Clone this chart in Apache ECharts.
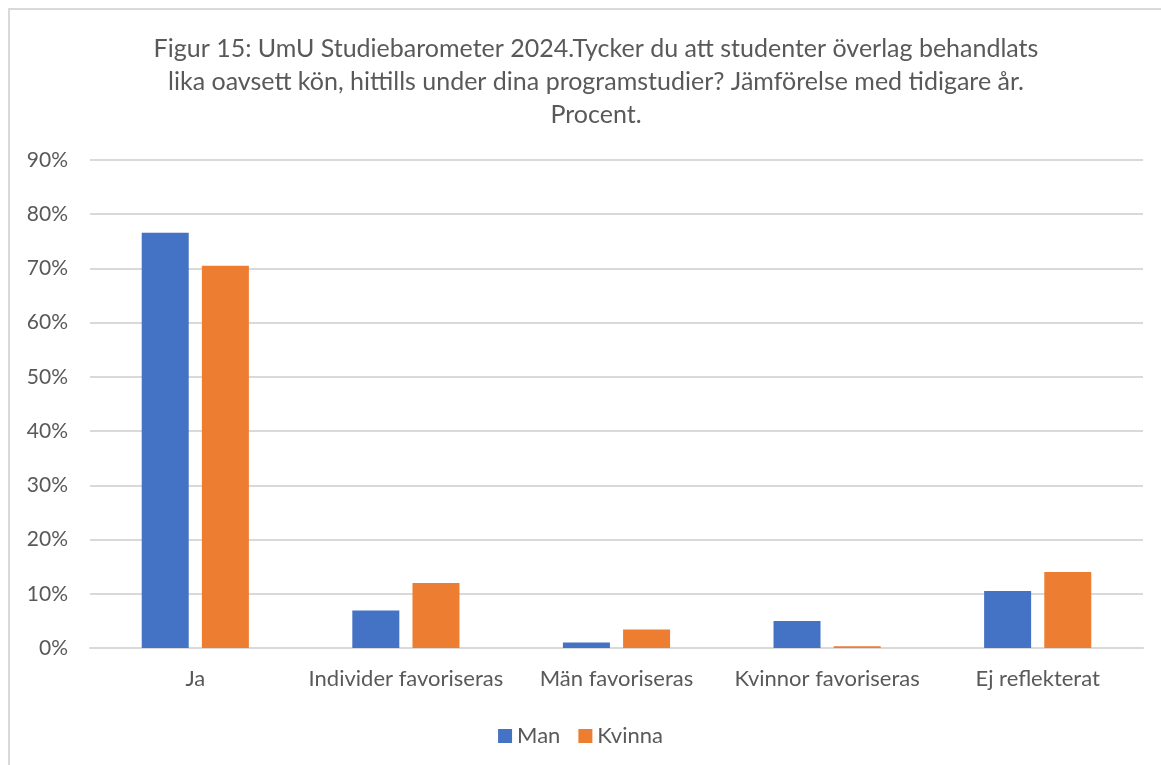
<!DOCTYPE html>
<html lang="sv">
<head>
  <meta charset="UTF-8">
  <title>Figur 15</title>
  <script src="https://cdn.jsdelivr.net/npm/echarts@6/dist/echarts.min.js"></script>
  <style>
    html, body { margin: 0; padding: 0; background: #fff; }
    #frame {
      position: absolute; left: 8px; top: 8px;
      width: 1200px; height: 800px;
      border-left: 2px solid #D9D9D9; border-top: 2px solid #D9D9D9;
    }
    #main { position: absolute; left: 0; top: 0; width: 1161px; height: 765px; }
  </style>
</head>
<body>
<div id="frame"></div>
<div id="main"></div>
<script>
  var categories = ['Ja', 'Individer favoriseras', 'Män favoriseras', 'Kvinnor favoriseras', 'Ej reflekterat'];
  var man = [76.6, 6.9, 1.0, 5.0, 10.5];
  var kvinna = [70.5, 12.0, 3.4, 0.3, 14.0];
  var yTicks = { min: 0, max: 90, step: 10 };

  var grey = '#595959';
  var font = 'Lato, "Open Sans", sans-serif';

  echarts.init(document.querySelector('#main')).setOption({
    animation: false,
    title: {
      text: 'Figur 15: UmU Studiebarometer 2024.Tycker du att studenter överlag behandlats\nlika oavsett kön, hittills under dina programstudier? Jämförelse med tidigare år.\nProcent.',
      left: 591,
      top: 27,
      textAlign: 'center',
      textStyle: {
        color: grey,
        fontFamily: font,
        fontWeight: 'normal',
        fontSize: 25,
        lineHeight: 33
      }
    },
    legend: {
      data: ['Man', 'Kvinna'],
      left: 'center',
      top: 720,
      itemWidth: 14,
      itemHeight: 14,
      itemGap: 18,
      icon: 'rect',
      textStyle: { color: grey, fontFamily: font, fontSize: 22 }
    },
    grid: { left: 90, right: 18, top: 160, bottom: 117 },
    xAxis: {
      type: 'category',
      data: categories,
      axisLine: { lineStyle: { color: '#D9D9D9', width: 2 } },
      axisTick: { show: false },
      axisLabel: { color: grey, fontFamily: font, fontSize: 22, margin: 20, interval: 0 }
    },
    yAxis: {
      type: 'value',
      min: yTicks.min,
      max: yTicks.max,
      interval: yTicks.step,
      axisLine: { show: false },
      axisTick: { show: false },
      axisLabel: { color: grey, fontFamily: font, fontSize: 21, margin: 22, formatter: '{value}%' },
      splitLine: { lineStyle: { color: '#D9D9D9', width: 2 } }
    },
    series: [
      {
        name: 'Man',
        type: 'bar',
        data: man,
        barWidth: 47,
        barGap: '28%',
        itemStyle: { color: '#4472C4' }
      },
      {
        name: 'Kvinna',
        type: 'bar',
        data: kvinna,
        barWidth: 47,
        barGap: '28%',
        itemStyle: { color: '#ED7D31' }
      }
    ]
  });
</script>
</body>
</html>
